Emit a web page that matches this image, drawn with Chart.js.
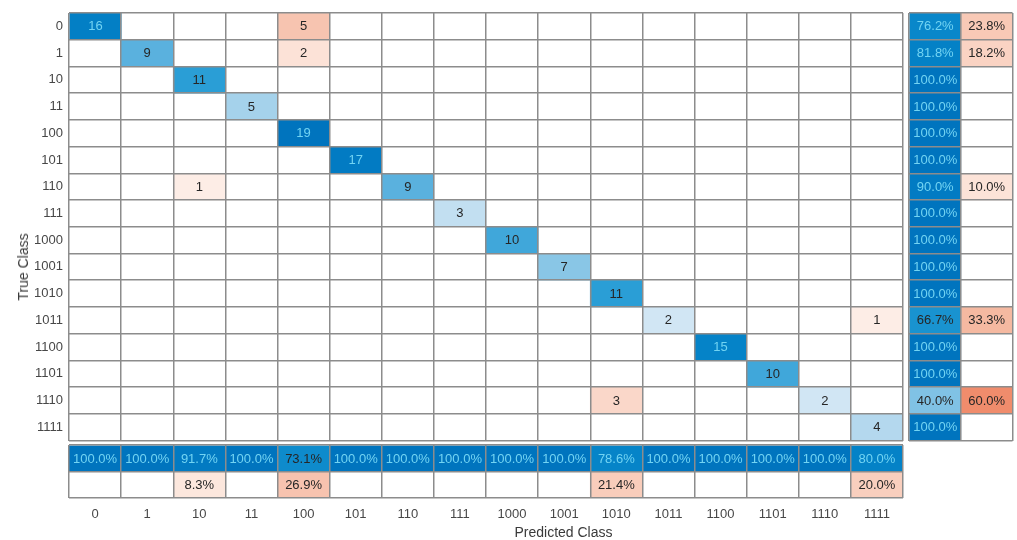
<!DOCTYPE html>
<html>
<head>
<meta charset="utf-8">
<script src="https://cdn.jsdelivr.net/npm/chart.js@4.4.1/dist/chart.umd.min.js"></script>
<style>
  html, body { margin: 0; padding: 0; background: #fff; width: 1017px; height: 540px; overflow: hidden; }
  #wrap { position: relative; width: 1017px; height: 540px; }
  canvas { position: absolute; }
  .axis-title { position: absolute; font: 14px "Liberation Sans", Arial, sans-serif; color: #3a3a3a; white-space: nowrap; }
</style>
</head>
<body>
<div id="wrap">
  <canvas id="main" width="905" height="442" style="left:0;top:0"></canvas>
  <canvas id="rows" width="112" height="442" style="left:905px;top:0"></canvas>
  <canvas id="cols" width="905" height="100" style="left:0;top:440px"></canvas>
  <div class="axis-title" style="left:563.5px;top:532px;transform:translate(-50%,-50%)">Predicted Class</div>
  <div class="axis-title" style="left:23px;top:267px;transform:translate(-50%,-50%) rotate(-90deg)">True Class</div>
</div>
<script>
// Class names (true classes on rows, predicted classes on columns)
const classes = ['0','1','10','11','100','101','110','111','1000','1001','1010','1011','1100','1101','1110','1111'];

// Confusion counts: counts[trueIndex][predictedIndex]
const counts = [
  [16,0,0,0,5,0,0,0,0,0,0,0,0,0,0,0],
  [0,9,0,0,2,0,0,0,0,0,0,0,0,0,0,0],
  [0,0,11,0,0,0,0,0,0,0,0,0,0,0,0,0],
  [0,0,0,5,0,0,0,0,0,0,0,0,0,0,0,0],
  [0,0,0,0,19,0,0,0,0,0,0,0,0,0,0,0],
  [0,0,0,0,0,17,0,0,0,0,0,0,0,0,0,0],
  [0,0,1,0,0,0,9,0,0,0,0,0,0,0,0,0],
  [0,0,0,0,0,0,0,3,0,0,0,0,0,0,0,0],
  [0,0,0,0,0,0,0,0,10,0,0,0,0,0,0,0],
  [0,0,0,0,0,0,0,0,0,7,0,0,0,0,0,0],
  [0,0,0,0,0,0,0,0,0,0,11,0,0,0,0,0],
  [0,0,0,0,0,0,0,0,0,0,0,2,0,0,0,1],
  [0,0,0,0,0,0,0,0,0,0,0,0,15,0,0,0],
  [0,0,0,0,0,0,0,0,0,0,0,0,0,10,0,0],
  [0,0,0,0,0,0,0,0,0,0,3,0,0,0,2,0],
  [0,0,0,0,0,0,0,0,0,0,0,0,0,0,0,4]
];

// Row summary (per true class), percent
const truePositiveRate  = [76.2, 81.8, 100, 100, 100, 100, 90.0, 100, 100, 100, 100, 66.7, 100, 100, 40.0, 100];
const falseNegativeRate = [23.8, 18.2, 0, 0, 0, 0, 10.0, 0, 0, 0, 0, 33.3, 0, 0, 60.0, 0];

// Column summary (per predicted class), percent
const positivePredictive = [100, 100, 91.7, 100, 73.1, 100, 100, 100, 100, 100, 78.6, 100, 100, 100, 100, 80.0];
const falseDiscovery     = [0, 0, 8.3, 0, 26.9, 0, 0, 0, 0, 0, 21.4, 0, 0, 0, 0, 20.0];

// ---- styling ----
const FONT = '"Liberation Sans", Arial, sans-serif';
Chart.defaults.font.family = FONT;
const GRID = '#8c8c8c';
const GRID_W = 1.5;
const TICK = '#474747';
const INK_DARK = '#262626';
const INK_LIGHT = '#72d4f3';
const EMPTY = 'rgba(255,255,255,0)';

const blueStops = [
  [0, [255,255,255]], [0.1, [210,231,244]], [0.26, [166,210,235]], [0.4, [128,194,229]],
  [0.47, [92,178,222]], [0.53, [62,166,218]], [0.58, [42,158,214]], [0.7, [18,143,206]],
  [0.8, [4,130,199]], [1, [0,116,190]]
];
const redStops = [
  [0, [255,255,255]], [0.05, [253,238,231]], [0.1, [252,227,216]], [0.2, [249,207,190]],
  [0.3, [246,190,168]], [0.6, [240,140,108]], [1, [217,83,25]]
];

function ramp(stops, t) {
  t = Math.max(0, Math.min(1, t));
  for (let i = 1; i < stops.length; i++) {
    if (t <= stops[i][0]) {
      const [t0, c0] = stops[i - 1], [t1, c1] = stops[i];
      const f = (t - t0) / (t1 - t0);
      return 'rgb(' + c0.map((c, k) => Math.round(c + (c1[k] - c) * f)).join(',') + ')';
    }
  }
  return 'rgb(' + stops[stops.length - 1][1].join(',') + ')';
}
const inkFor = (isBlue, t) => (isBlue && t >= 0.75) ? INK_LIGHT : INK_DARK;
const pct = v => v.toFixed(1) + '%';

const maxCount = Math.max(...counts.flat());

// Text drawn in the centre of every bar element that carries a label
const cellLabels = {
  id: 'cellLabels',
  afterDatasetsDraw(chart) {
    const ctx = chart.ctx;
    ctx.save();
    ctx.font = '13px ' + FONT;
    ctx.textAlign = 'center';
    ctx.textBaseline = 'middle';
    chart.data.datasets.forEach((ds, di) => {
      chart.getDatasetMeta(di).data.forEach((el, k) => {
        const txt = ds.cellText[k];
        if (!txt) return;
        const p = el.getCenterPoint();
        ctx.fillStyle = ds.cellInk[k];
        ctx.fillText(txt, p.x, p.y + 0.5);
      });
    });
    ctx.restore();
  }
};

const common = {
  responsive: false,
  animation: false,
  devicePixelRatio: 1,
  events: [],
  plugins: { legend: { display: false }, tooltip: { enabled: false } },
  datasets: { bar: { barPercentage: 1, categoryPercentage: 1, borderWidth: 0 } }
};
// cell borders come from the scale grids, drawn above the bars
const gridOpts = (offset) => ({ color: GRID, lineWidth: GRID_W, drawTicks: false, offset, z: 1 });

// ---- main matrix: one stacked dataset per predicted class ----
const mainSets = classes.map((_, j) => ({
  label: classes[j],
  data: classes.map(() => 1),
  backgroundColor: classes.map((_, i) => {
    const v = counts[i][j];
    return v === 0 ? EMPTY : ramp(i === j ? blueStops : redStops, v / maxCount);
  }),
  cellText: classes.map((_, i) => counts[i][j] ? String(counts[i][j]) : ''),
  cellInk: classes.map((_, i) => inkFor(i === j, counts[i][j] / maxCount))
}));

new Chart(document.getElementById('main'), {
  type: 'bar',
  data: { labels: classes, datasets: mainSets },
  plugins: [cellLabels],
  options: Object.assign({}, common, {
    indexAxis: 'y',
    layout: { padding: { top: 13, right: 2, bottom: 1.5, left: 0 } },
    scales: {
      x: {
        type: 'linear', stacked: true, min: 0, max: 16,
        ticks: { display: false, stepSize: 1 },
        grid: gridOpts(false), border: { display: false },
        afterFit(s) { s.height = 0; }
      },
      y: {
        type: 'category', stacked: true, offset: true,
        ticks: { color: TICK, font: { size: 13 }, padding: 6, autoSkip: false },
        grid: gridOpts(true), border: { display: false },
        afterFit(s) { s.width = 69; s.paddingTop = 0; s.paddingBottom = 0; }
      }
    }
  })
});

// ---- row summary: true positive rate | false negative rate ----
const rowSets = [
  {
    data: classes.map(() => 1),
    backgroundColor: truePositiveRate.map(v => v ? ramp(blueStops, v / 100) : EMPTY),
    cellText: truePositiveRate.map(v => v ? pct(v) : ''),
    cellInk: truePositiveRate.map(v => inkFor(true, v / 100))
  },
  {
    data: classes.map(() => 1),
    backgroundColor: falseNegativeRate.map(v => v ? ramp(redStops, v / 100) : EMPTY),
    cellText: falseNegativeRate.map(v => v ? pct(v) : ''),
    cellInk: falseNegativeRate.map(() => INK_DARK)
  }
];

new Chart(document.getElementById('rows'), {
  type: 'bar',
  data: { labels: classes, datasets: rowSets },
  plugins: [cellLabels],
  options: Object.assign({}, common, {
    indexAxis: 'y',
    layout: { padding: { top: 13, right: 4.5, bottom: 1.5, left: 4 } },
    scales: {
      x: {
        type: 'linear', stacked: true, min: 0, max: 2,
        ticks: { display: false, stepSize: 1 },
        grid: gridOpts(false), border: { display: false },
        afterFit(s) { s.height = 0; }
      },
      y: {
        type: 'category', stacked: true, offset: true,
        ticks: { display: false },
        grid: gridOpts(true), border: { display: false },
        afterFit(s) { s.width = 0; }
      }
    }
  })
});

// ---- column summary: positive predictive value / false discovery rate ----
const colSets = [
  {
    data: classes.map(() => 1),
    backgroundColor: positivePredictive.map(v => v ? ramp(blueStops, v / 100) : EMPTY),
    cellText: positivePredictive.map(v => v ? pct(v) : ''),
    cellInk: positivePredictive.map(v => inkFor(true, v / 100))
  },
  {
    data: classes.map(() => 1),
    backgroundColor: falseDiscovery.map(v => v ? ramp(redStops, v / 100) : EMPTY),
    cellText: falseDiscovery.map(v => v ? pct(v) : ''),
    cellInk: falseDiscovery.map(() => INK_DARK)
  }
];

new Chart(document.getElementById('cols'), {
  type: 'bar',
  data: { labels: classes, datasets: colSets },
  plugins: [cellLabels],
  options: Object.assign({}, common, {
    layout: { padding: { top: 5, right: 2, bottom: 0, left: 0 } },
    scales: {
      x: {
        type: 'category', stacked: true, offset: true,
        ticks: { color: TICK, font: { size: 13 }, padding: 9, autoSkip: false, maxRotation: 0 },
        grid: gridOpts(true), border: { display: false },
        afterFit(s) { s.height = 42; s.paddingLeft = 0; s.paddingRight = 0; }
      },
      y: {
        type: 'linear', stacked: true, min: 0, max: 2, reverse: true,
        ticks: { display: false, stepSize: 1 },
        grid: gridOpts(false), border: { display: false },
        afterFit(s) { s.width = 69; }
      }
    }
  })
});
</script>
</body>
</html>
